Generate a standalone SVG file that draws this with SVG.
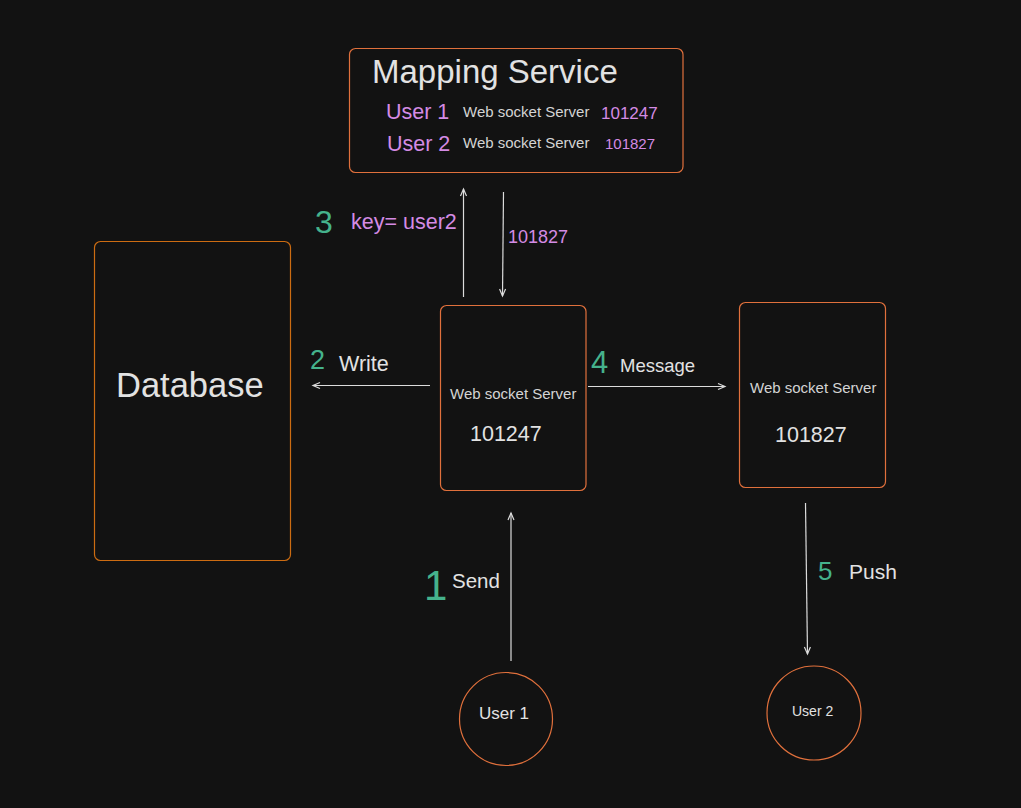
<svg xmlns="http://www.w3.org/2000/svg" width="1021" height="808" viewBox="0 0 1021 808">
<style>
.box{fill:#121212;stroke:#e0703c;stroke-width:1.2}
.db{fill:#121212;stroke:#cc6c12;stroke-width:1.2}
.t{font-family:"Liberation Sans",Arial,sans-serif;fill:#e2e2e2}
.s{font-family:"Liberation Sans",Arial,sans-serif;fill:#d4d4d4;font-size:15px}
.p{font-family:"Liberation Sans",Arial,sans-serif;fill:#d48be4}
.g{font-family:"Liberation Sans",Arial,sans-serif;fill:#45b28c}
.c{stroke:#dcdcdc;stroke-width:1.2;fill:none;marker-end:url(#ah)}
</style>
<defs>
<marker id="ah" markerWidth="10" markerHeight="10" refX="8" refY="5" orient="auto" markerUnits="userSpaceOnUse">
<path d="M1,2 L8,5 L1,8" fill="none" stroke="#dcdcdc" stroke-width="1.2"/>
</marker>
</defs>
<rect width="1021" height="808" fill="#121212"/>
<g id="mapping">
<rect class="box" x="349.5" y="48.5" width="333.5" height="124" rx="6"/>
<text class="t" x="372" y="83" font-size="33">Mapping Service</text>
<text class="p" x="386" y="119" font-size="21.5">User 1</text>
<text class="s" x="463" y="117">Web socket Server</text>
<text class="p" x="601" y="119" font-size="17">101247</text>
<text class="p" x="387" y="151" font-size="21.5">User 2</text>
<text class="s" x="463" y="148">Web socket Server</text>
<text class="p" x="605" y="149" font-size="15">101827</text>
</g>
<g id="database">
<rect class="db" x="94.5" y="241.5" width="196" height="319" rx="6"/>
<text class="t" x="116" y="397" font-size="34.5">Database</text>
</g>
<g id="ws1">
<rect class="box" x="440.5" y="305.5" width="145.5" height="185" rx="6"/>
<text class="s" x="450" y="399">Web socket Server</text>
<text class="t" x="470" y="441" font-size="21.5">101247</text>
</g>
<g id="ws2">
<rect class="box" x="739.5" y="302.5" width="146" height="185" rx="6"/>
<text class="s" x="750" y="393">Web socket Server</text>
<text class="t" x="775" y="442" font-size="21.5">101827</text>
</g>
<g id="user1">
<circle class="box" cx="506" cy="719" r="46.5"/>
<text class="t" x="479" y="719" font-size="17">User 1</text>
</g>
<g id="user2">
<circle class="box" cx="814" cy="713" r="47"/>
<text class="t" x="792" y="716" font-size="14">User 2</text>
</g>
<g id="connectors">
<line class="c" x1="463.5" y1="297" x2="463.5" y2="189"/>
<line class="c" x1="503.5" y1="192" x2="502.5" y2="296"/>
<line class="c" x1="430" y1="385.5" x2="313" y2="385.5"/>
<line class="c" x1="588" y1="386.5" x2="725" y2="386.5"/>
<line class="c" x1="511" y1="661" x2="511" y2="513"/>
<line class="c" x1="805.5" y1="503" x2="807.5" y2="654"/>
</g>
<g id="labels">
<text class="g" x="315" y="233" font-size="32">3</text>
<text class="p" x="351" y="229" font-size="21.5">key= user2</text>
<text class="p" x="508" y="243" font-size="18">101827</text>
<text class="g" x="310" y="369" font-size="27">2</text>
<text class="t" x="339" y="371" font-size="21.5">Write</text>
<text class="g" x="591" y="373" font-size="31">4</text>
<text class="t" x="620" y="372" font-size="18.5">Message</text>
<text class="g" x="424" y="600" font-size="42">1</text>
<text class="t" x="452" y="588" font-size="20.5">Send</text>
<text class="g" x="818" y="580" font-size="26">5</text>
<text class="t" x="849" y="579" font-size="21">Push</text>
</g>
</svg>
